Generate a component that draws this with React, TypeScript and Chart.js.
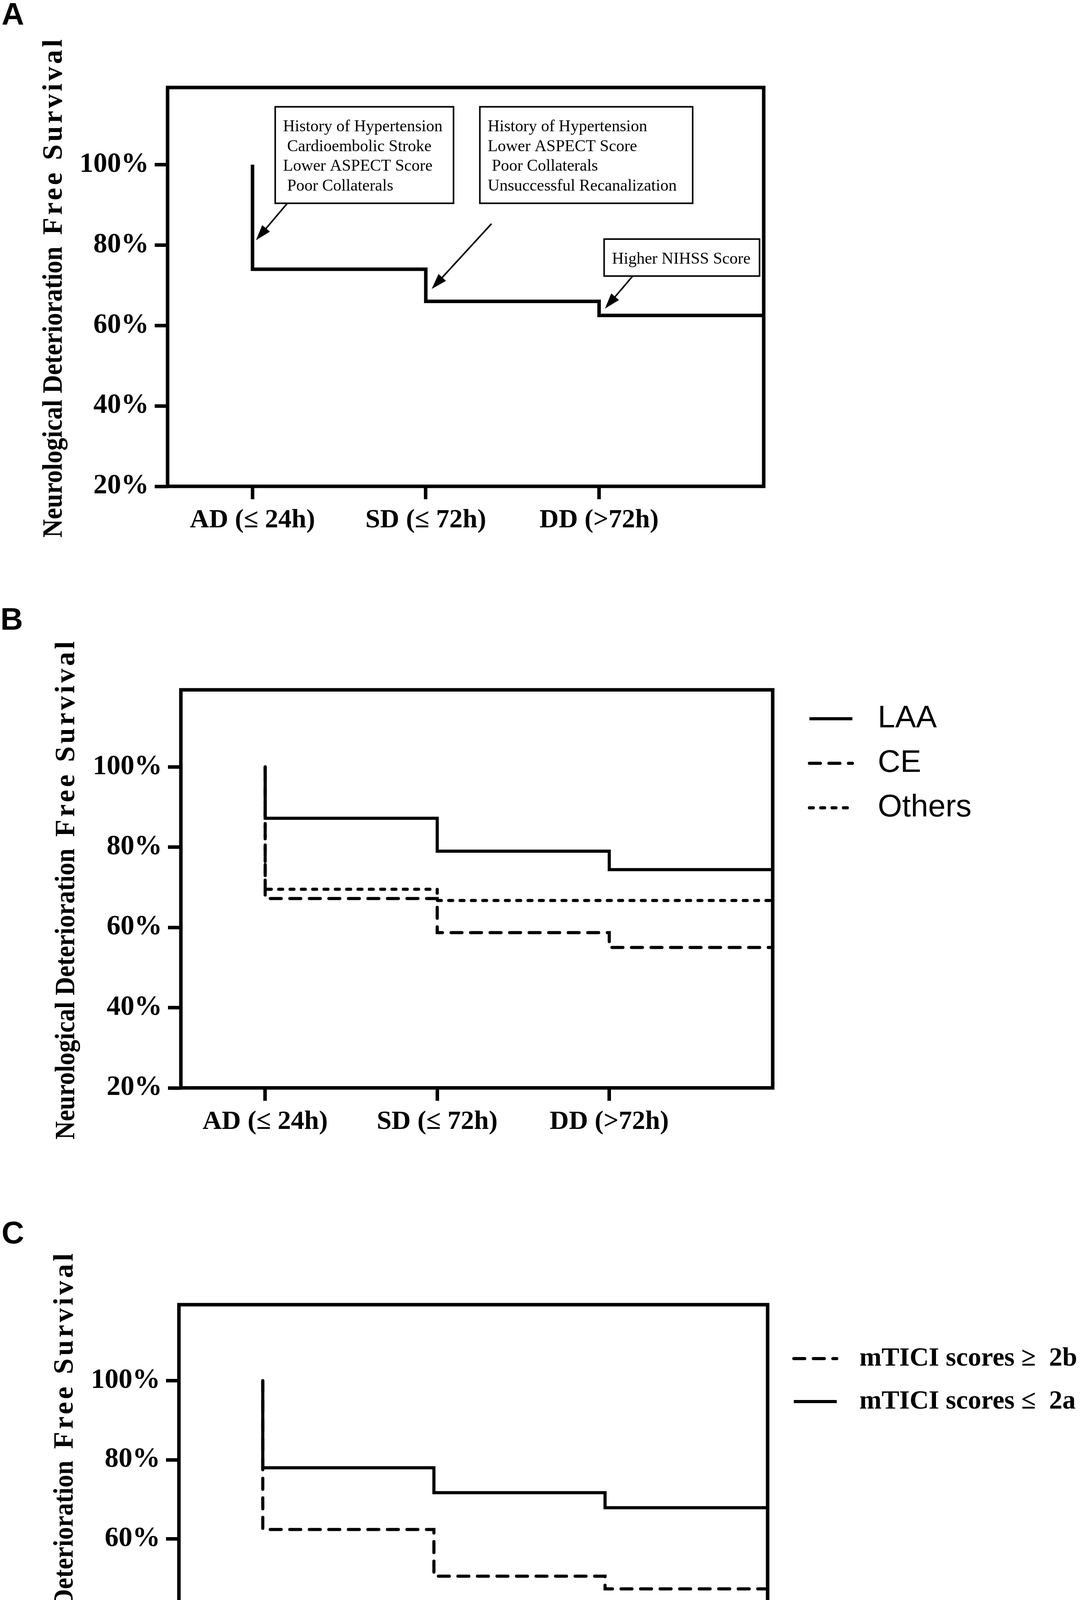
import { useEffect, useRef } from "react";
import { Chart, registerables } from "chart.js";

Chart.register(...registerables);

const SERIF = "'Liberation Serif', 'Times New Roman', serif";
const SANS = "'Liberation Sans', Arial, sans-serif";
const PAGE_W = 2780;
const PAGE_H = 4475;

// ---- data ----
const phases = ["AD (≤ 24h)", "SD (≤ 72h)", "DD (>72h)"];
const yTicks = [20, 40, 60, 80, 100];
const startSurvival = 100;
const yTitle = ["Neurological Deterioration", "Free Survival"];

// A: whole cohort
const overallSurvival = [74, 66, 62.5];

// B: stroke aetiology
const aetiologyLabels = ["LAA", "CE", "Others"];
const laaSurvival = [87.2, 79, 74.4];
const ceSurvival = [67.2, 58.7, 55];
const othersSurvival = [69.5, 66.7, 66.7];

// C: reperfusion grade
const mticiLabels = ["mTICI scores ≥  2b", "mTICI scores ≤  2a"];
const goodMticiSurvival = [62.4, 50.6, 47.4];
const poorMticiSurvival = [78, 71.7, 67.9];

// A: risk factor call-outs for each phase
const calloutTexts = [
  ["History of Hypertension", " Cardioembolic Stroke", "Lower ASPECT Score", " Poor Collaterals"],
  ["History of Hypertension", "Lower ASPECT Score", " Poor Collaterals", "Unsuccessful Recanalization"],
  ["Higher NIHSS Score"],
];

// ---- layout ----
const X_MIN = -0.49;
const X_MAX = 2.95;
const Y_MIN = 20;
const Y_MAX = 119.2;

const SOLID: number[] = [];
const DASHED = [28, 22];
const DOTTED = [10, 19];

type Series = { label: string; values: number[]; dash: number[]; width: number };
type Callout = { lines: string[]; box: number[]; from: number[]; to: number[] };
type Panel = {
  letter: string;
  letterPos: number[];
  top: number;
  height: number;
  plot: { left: number; right: number; top: number; bottom: number };
  titleBaseline: number;
  series: Series[];
  callouts?: Callout[];
  legend?: { x: number; y: number; gap: number; len: number; textX: number; font: string };
};

const panels: Panel[] = [
  {
    letter: "A",
    letterPos: [4, 63],
    top: 0,
    height: 1480,
    plot: { left: 429, right: 1955, top: 224, bottom: 1245 },
    titleBaseline: 158,
    series: [{ label: "All", values: overallSurvival, dash: SOLID, width: 9 }],
    callouts: [
      { lines: calloutTexts[0], box: [0.131, 114.4, 1.16, 90.4], from: [0.199, 90.3], to: [0.02, 81.2] },
      { lines: calloutTexts[1], box: [1.312, 114.4, 2.54, 90.4], from: [1.379, 85.3], to: [1.034, 69.1] },
      { lines: calloutTexts[2], box: [2.029, 81.5, 2.926, 72.3], from: [2.192, 72.2], to: [2.034, 64.2] },
    ],
  },
  {
    letter: "B",
    letterPos: [1, 132],
    top: 1480,
    height: 1550,
    plot: { left: 463, right: 1978, top: 286, bottom: 1305 },
    titleBaseline: 190,
    series: [
      { label: aetiologyLabels[0], values: laaSurvival, dash: SOLID, width: 8 },
      { label: aetiologyLabels[1], values: ceSurvival, dash: DASHED, width: 8 },
      { label: aetiologyLabels[2], values: othersSurvival, dash: DOTTED, width: 8 },
    ],
    legend: { x: 2072, y: 360, gap: 114, len: 110, textX: 2247, font: `80px ${SANS}` },
  },
  {
    letter: "C",
    letterPos: [4, 153],
    top: 3030,
    height: 1445,
    plot: { left: 458, right: 1965, top: 310, bottom: 1315 },
    titleBaseline: 186,
    series: [
      { label: mticiLabels[0], values: goodMticiSurvival, dash: DASHED, width: 8 },
      { label: mticiLabels[1], values: poorMticiSurvival, dash: SOLID, width: 8 },
    ],
    legend: { x: 2032, y: 448, gap: 110, len: 110, textX: 2200, font: `bold 68px ${SERIF}` },
  },
];

const stepPoints = (values: number[]) => [
  { x: 0, y: startSurvival },
  ...values.map((v, i) => ({ x: i, y: v })),
  { x: X_MAX, y: values[values.length - 1] },
];

function drawArrow(ctx: CanvasRenderingContext2D, fx: number, fy: number, tx: number, ty: number) {
  const ang = Math.atan2(ty - fy, tx - fx);
  const cos = Math.cos(ang);
  const sin = Math.sin(ang);
  const head = 40;
  const hw = 13;
  ctx.beginPath();
  ctx.moveTo(fx, fy);
  ctx.lineTo(tx - cos * head * 0.8, ty - sin * head * 0.8);
  ctx.stroke();
  ctx.beginPath();
  ctx.moveTo(tx, ty);
  ctx.lineTo(tx - head * cos + hw * sin, ty - head * sin - hw * cos);
  ctx.lineTo(tx - head * cos - hw * sin, ty - head * sin + hw * cos);
  ctx.closePath();
  ctx.fill();
}

// rotated y title: first words a little condensed, last words spaced out, as in the figure
function drawYTitle(ctx: CanvasRenderingContext2D, baselineX: number, centerY: number) {
  ctx.save();
  ctx.font = `bold 72px ${SERIF}`;
  ctx.fillStyle = "#000";
  ctx.textBaseline = "alphabetic";
  ctx.textAlign = "left";
  const firstLen = 745;
  const gap = 30;
  const spacing = 7;
  (ctx as any).letterSpacing = `${spacing}px`;
  const secondLen = ctx.measureText(yTitle[1]).width - spacing;
  (ctx as any).letterSpacing = "0px";
  const total = firstLen + gap + secondLen;
  ctx.translate(baselineX, centerY + total / 2);
  ctx.rotate(-Math.PI / 2);
  const natural = ctx.measureText(yTitle[0]).width;
  ctx.save();
  ctx.scale(firstLen / natural, 1);
  ctx.fillText(yTitle[0], 0, 0);
  ctx.restore();
  (ctx as any).letterSpacing = `${spacing}px`;
  ctx.fillText(yTitle[1], firstLen + gap, 0);
  ctx.restore();
}

const decorPlugin = (panel: Panel) => ({
  id: "panelDecor",
  afterDatasetsDraw(chart: Chart) {
    const { ctx, scales } = chart;
    const px = (v: number) => scales.x.getPixelForValue(v);
    const py = (v: number) => scales.y.getPixelForValue(v);
    ctx.save();
    ctx.strokeStyle = "#000";
    ctx.fillStyle = "#000";
    (panel.callouts || []).forEach((c) => {
      const l = px(c.box[0]);
      const t = py(c.box[1]);
      const r = px(c.box[2]);
      const b = py(c.box[3]);
      ctx.lineWidth = 4;
      ctx.setLineDash([]);
      ctx.fillStyle = "#fff";
      ctx.fillRect(l, t, r - l, b - t);
      ctx.strokeRect(l, t, r - l, b - t);
      ctx.fillStyle = "#000";
      ctx.font = `42px ${SERIF}`;
      ctx.textAlign = "left";
      ctx.textBaseline = "alphabetic";
      c.lines.forEach((line, i) => ctx.fillText(line, l + 20, t + 63 + i * 50.5));
      drawArrow(ctx, px(c.from[0]), py(c.from[1]), px(c.to[0]), py(c.to[1]));
    });
    ctx.restore();
  },
  afterDraw(chart: Chart) {
    const { ctx, chartArea } = chart;
    ctx.save();
    ctx.strokeStyle = "#000";
    ctx.fillStyle = "#000";
    ctx.lineWidth = 9;
    ctx.lineJoin = "miter";
    ctx.setLineDash([]);
    ctx.strokeRect(chartArea.left, chartArea.top, chartArea.right - chartArea.left, chartArea.bottom - chartArea.top);

    const lg = panel.legend;
    if (lg) {
      chart.data.datasets.forEach((ds: any, i: number) => {
        const y = lg.y + i * lg.gap;
        ctx.beginPath();
        ctx.lineWidth = ds.borderWidth;
        ctx.lineCap = ds.borderCapStyle;
        ctx.setLineDash(ds.borderDash);
        ctx.moveTo(lg.x, y);
        ctx.lineTo(lg.x + lg.len, y);
        ctx.stroke();
        ctx.setLineDash([]);
        ctx.font = lg.font;
        ctx.textAlign = "left";
        ctx.textBaseline = "middle";
        ctx.fillText(ds.label, lg.textX, y);
      });
    }

    ctx.font = `bold 80px ${SANS}`;
    ctx.textAlign = "left";
    ctx.textBaseline = "alphabetic";
    ctx.fillText(panel.letter, panel.letterPos[0], panel.letterPos[1]);
    ctx.restore();

    drawYTitle(ctx, panel.titleBaseline, (chartArea.top + chartArea.bottom) / 2 + 4);
  },
});

function SurvivalPanel({ panel }: { panel: Panel }) {
  const canvasRef = useRef<HTMLCanvasElement>(null);

  useEffect(() => {
    if (!canvasRef.current) return;
    const { plot, height } = panel;
    const tickGrid = {
      display: true,
      drawOnChartArea: false,
      drawTicks: true,
      tickLength: 33,
      lineWidth: 9,
      color: "#000",
    };

    const chart = new Chart(canvasRef.current, {
      type: "line",
      data: {
        datasets: panel.series.map((s) => ({
          label: s.label,
          data: stepPoints(s.values),
          stepped: "before" as const,
          borderColor: "#000",
          borderWidth: s.width,
          borderDash: s.dash,
          borderCapStyle: (s.dash.length ? "round" : "butt") as CanvasLineCap,
          borderJoinStyle: "miter" as CanvasLineJoin,
          pointRadius: 0,
          fill: false,
          tension: 0,
        })),
      },
      options: {
        animation: false,
        responsive: false,
        devicePixelRatio: 1,
        layout: { padding: { left: 0, top: plot.top, right: PAGE_W - plot.right, bottom: 0 } },
        plugins: { legend: { display: false }, tooltip: { enabled: false } },
        scales: {
          x: {
            type: "linear",
            min: X_MIN,
            max: X_MAX,
            afterBuildTicks: (s: any) => {
              s.ticks = phases.map((_, i) => ({ value: i }));
            },
            afterFit: (s: any) => {
              s.height = height - plot.bottom;
            },
            ticks: {
              callback: (v: any) => phases[Math.round(Number(v))],
              color: "#000",
              padding: 14,
              maxRotation: 0,
              autoSkip: false,
              font: { family: SERIF, size: 68, weight: "bold" },
            },
            grid: tickGrid,
            border: { display: false },
          },
          y: {
            type: "linear",
            min: Y_MIN,
            max: Y_MAX,
            afterBuildTicks: (s: any) => {
              s.ticks = yTicks.map((v) => ({ value: v }));
            },
            afterFit: (s: any) => {
              s.width = plot.left;
            },
            ticks: {
              callback: (v: any) => `${v}%`,
              color: "#000",
              padding: 15,
              font: { family: SERIF, size: 71, weight: "bold" },
            },
            grid: tickGrid,
            border: { display: false },
          },
        },
      },
      plugins: [decorPlugin(panel)],
    });

    return () => {
      chart.destroy();
    };
  }, [panel]);

  return (
    <canvas
      ref={canvasRef}
      width={PAGE_W}
      height={panel.height}
      style={{ position: "absolute", left: 0, top: panel.top, width: PAGE_W, height: panel.height }}
    />
  );
}

export default function App() {
  return (
    <div style={{ position: "absolute", left: 0, top: 0, width: PAGE_W, height: PAGE_H, background: "#fff" }}>
      {panels.map((p) => (
        <SurvivalPanel key={p.letter} panel={p} />
      ))}
    </div>
  );
}
